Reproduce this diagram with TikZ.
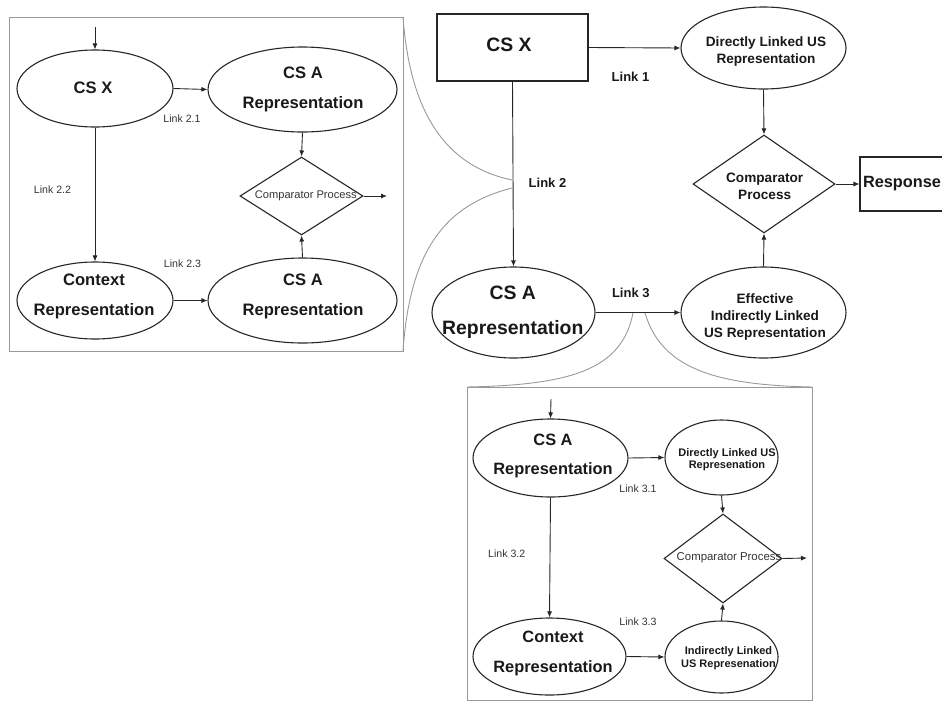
\documentclass[tikz,border=0pt]{standalone}
\usepackage{fontspec}
\setmainfont{Liberation Sans}
\usetikzlibrary{shapes.geometric,arrows.meta}
\newcommand\myfs[2]{\fontsize{#1pt}{#2pt}\selectfont}
\begin{document}
\begin{tikzpicture}[x=1pt,y=-1pt,
  ell/.style={ellipse,draw=black!85,line width=1.1pt,inner sep=0pt},
  dia/.style={diamond,draw=black!85,line width=1.1pt,inner sep=0pt},
  box/.style={rectangle,draw=black!85,line width=1.1pt,inner sep=0pt},
  zbox/.style={rectangle,draw=black!40,line width=0.9pt,inner sep=0pt,outer sep=0pt},
  zcurve/.style={draw=black!40,line width=0.9pt},
  arr/.style={draw=black!85,line width=0.9pt,-{Latex[length=6pt,width=5pt]}},
  txt/.style={align=center,inner sep=0pt,text=black!90},
  tbigm/.style={txt,font=\bfseries\myfs{19.4}{35}},
  tbig/.style={txt,font=\bfseries\myfs{16.6}{30}},
  tmid/.style={txt,font=\bfseries\myfs{13.6}{16.8}},
  tsmallb/.style={txt,font=\bfseries\myfs{11}{12}},
  tsmallb2/.style={txt,font=\bfseries\myfs{11}{13}},
  tlinkm/.style={txt,font=\bfseries\myfs{13}{15}},
  tlink/.style={txt,font=\myfs{10.6}{12},text=black!80},
  tcomp/.style={txt,font=\myfs{11.1}{13},text=black!80}
]
\useasboundingbox (0,0) rectangle (942,702);

% ---------------- zoom boxes ----------------
\node[zbox,minimum width=394pt,minimum height=334pt] (lbox) at (206,184) {};
\node[zbox,minimum width=345pt,minimum height=313pt] (bbox) at (639.5,543.5) {};

% ---------------- main diagram ----------------
\node[box,minimum width=151pt,minimum height=67pt] (csx) at (512.5,47.5) {};
\node[tbigm] (csxt) at (509,45) {CS X};
\node[ell,minimum width=165pt,minimum height=82pt] (dl) at (763.5,48) {};
\node[tmid] (dlt) at (766,51.5) {Directly Linked US\\Representation};
\node[dia,minimum width=142pt,minimum height=98pt] (cmp) at (764,184) {};
\node[tmid] (cmpt) at (764.7,186.5) {Comparator\\Process};
\node[box,minimum width=85pt,minimum height=54pt] (resp) at (902.5,184) {};
\node[txt,font=\bfseries\myfs{16.3}{18}] (respt) at (902,184) {Response};
\node[ell,minimum width=163pt,minimum height=91pt] (csa) at (513.5,312.5) {};
\node[tbigm] (csat) at (512.8,312.5) {CS A\\Representation};
\node[ell,minimum width=165pt,minimum height=91pt] (eff) at (763.5,312.5) {};
\node[tmid,font=\bfseries\myfs{13.6}{17}] (efft) at (765,316.5) {Effective\\Indirectly Linked\\US Representation};

\draw[arr] (csx.east) -- (dl.west);
\draw[arr] (csx.south) -- (csa.north);
\draw[arr] (dl.south) -- (cmp.north);
\draw[arr] (eff.north) -- (cmp.south);
\draw[arr] (cmp.east) -- (resp.west);
\draw[arr] (csa.east) -- (eff.west);

\node[tlinkm] (l1) at (630.5,76.7) {Link 1};
\node[tlinkm] (l2) at (547.5,182.7) {Link 2};
\node[tlinkm] (l3) at (630.8,293.3) {Link 3};

% ---------------- zoom curves ----------------
\coordinate (l2a) at (512,180);
\coordinate (l2b) at (512,188);
\coordinate (l3a) at (633,313);
\coordinate (l3b) at (645,313);
\draw[zcurve] (lbox.north east) .. controls (410,112) and (445,166) .. (l2a);
\draw[zcurve] (l2b) .. controls (445,205) and (410,250) .. (lbox.south east);
\draw[zcurve] (l3a) .. controls (622,370) and (570,385) .. (bbox.north west);
\draw[zcurve] (l3b) .. controls (662,370) and (718,385) .. (bbox.north east);

% ---------------- left zoom box ----------------
\coordinate (lin) at (95,27);
\coordinate (lout) at (387,196);
\node[ell,minimum width=156pt,minimum height=77pt] (lcsx) at (95,88.5) {};
\node[tbig] (lcsxt) at (93,88) {CS X};
\node[ell,minimum width=189pt,minimum height=85pt] (lcsa1) at (302.5,89.5) {};
\node[tbig] (lcsa1t) at (303,89) {CS A\\Representation};
\node[dia,minimum width=123pt,minimum height=78pt] (lcmp) at (301.5,196) {};
\node[tcomp] (lcmpt) at (305.8,195.7) {Comparator Process};
\node[ell,minimum width=156pt,minimum height=77pt] (lctx) at (95,300.5) {};
\node[tbig] (lctxt) at (94,296.5) {Context\\Representation};
\node[ell,minimum width=189pt,minimum height=85pt] (lcsa2) at (302.5,300.5) {};
\node[tbig] (lcsa2t) at (303,296.5) {CS A\\Representation};

\draw[arr] (lin) -- (lcsx.north);
\draw[arr] (lcsx.east) -- (lcsa1.west);
\draw[arr] (lcsx.south) -- (lctx.north);
\draw[arr] (lcsa1.south) -- (lcmp.north);
\draw[arr] (lctx.east) -- (lcsa2.west);
\draw[arr] (lcsa2.north) -- (lcmp.south);
\draw[arr] (lcmp.east) -- (lout);

\node[tlink] (l21) at (182,118.3) {Link 2.1};
\node[tlink] (l22) at (52.5,190) {Link 2.2};
\node[tlink] (l23) at (182.5,263.3) {Link 2.3};

% ---------------- lower zoom box ----------------
\coordinate (bin) at (551,399);
\coordinate (bout) at (807,558);
\node[ell,minimum width=155pt,minimum height=78pt] (bcsa) at (550.5,458) {};
\node[tbig,font=\bfseries\myfs{16.4}{29}] (bcsat) at (553,455.5) {CS A\\Representation};
\node[ell,minimum width=113pt,minimum height=75pt] (bdl) at (721.5,457.5) {};
\node[tsmallb] (bdlt) at (727,459.5) {Directly Linked US\\Represenation};
\node[dia,minimum width=118pt,minimum height=89pt] (bcmp) at (723,558.5) {};
\node[tcomp,font=\myfs{11.4}{13}] (bcmpt) at (729,558) {Comparator Process};
\node[ell,minimum width=153pt,minimum height=77pt] (bctx) at (549.5,656.5) {};
\node[tbig,font=\bfseries\myfs{16.4}{30}] (bctxt) at (553,653.7) {Context\\Representation};
\node[ell,minimum width=113pt,minimum height=72pt] (bind) at (721.5,657) {};
\node[tsmallb2] (bindt) at (728.5,658.5) {Indirectly Linked\\US Represenation};

\draw[arr] (bin) -- (bcsa.north);
\draw[arr] (bcsa.east) -- (bdl.west);
\draw[arr] (bcsa.south) -- (bctx.north);
\draw[arr] (bdl.south) -- (bcmp.north);
\draw[arr] (bctx.east) -- (bind.west);
\draw[arr] (bind.north) -- (bcmp.south);
\draw[arr] (bcmp.east) -- (bout);

\node[tlink] (l31) at (638,488.3) {Link 3.1};
\node[tlink] (l32) at (506.7,553.3) {Link 3.2};
\node[tlink] (l33) at (638,621.7) {Link 3.3};
\end{tikzpicture}
\end{document}
